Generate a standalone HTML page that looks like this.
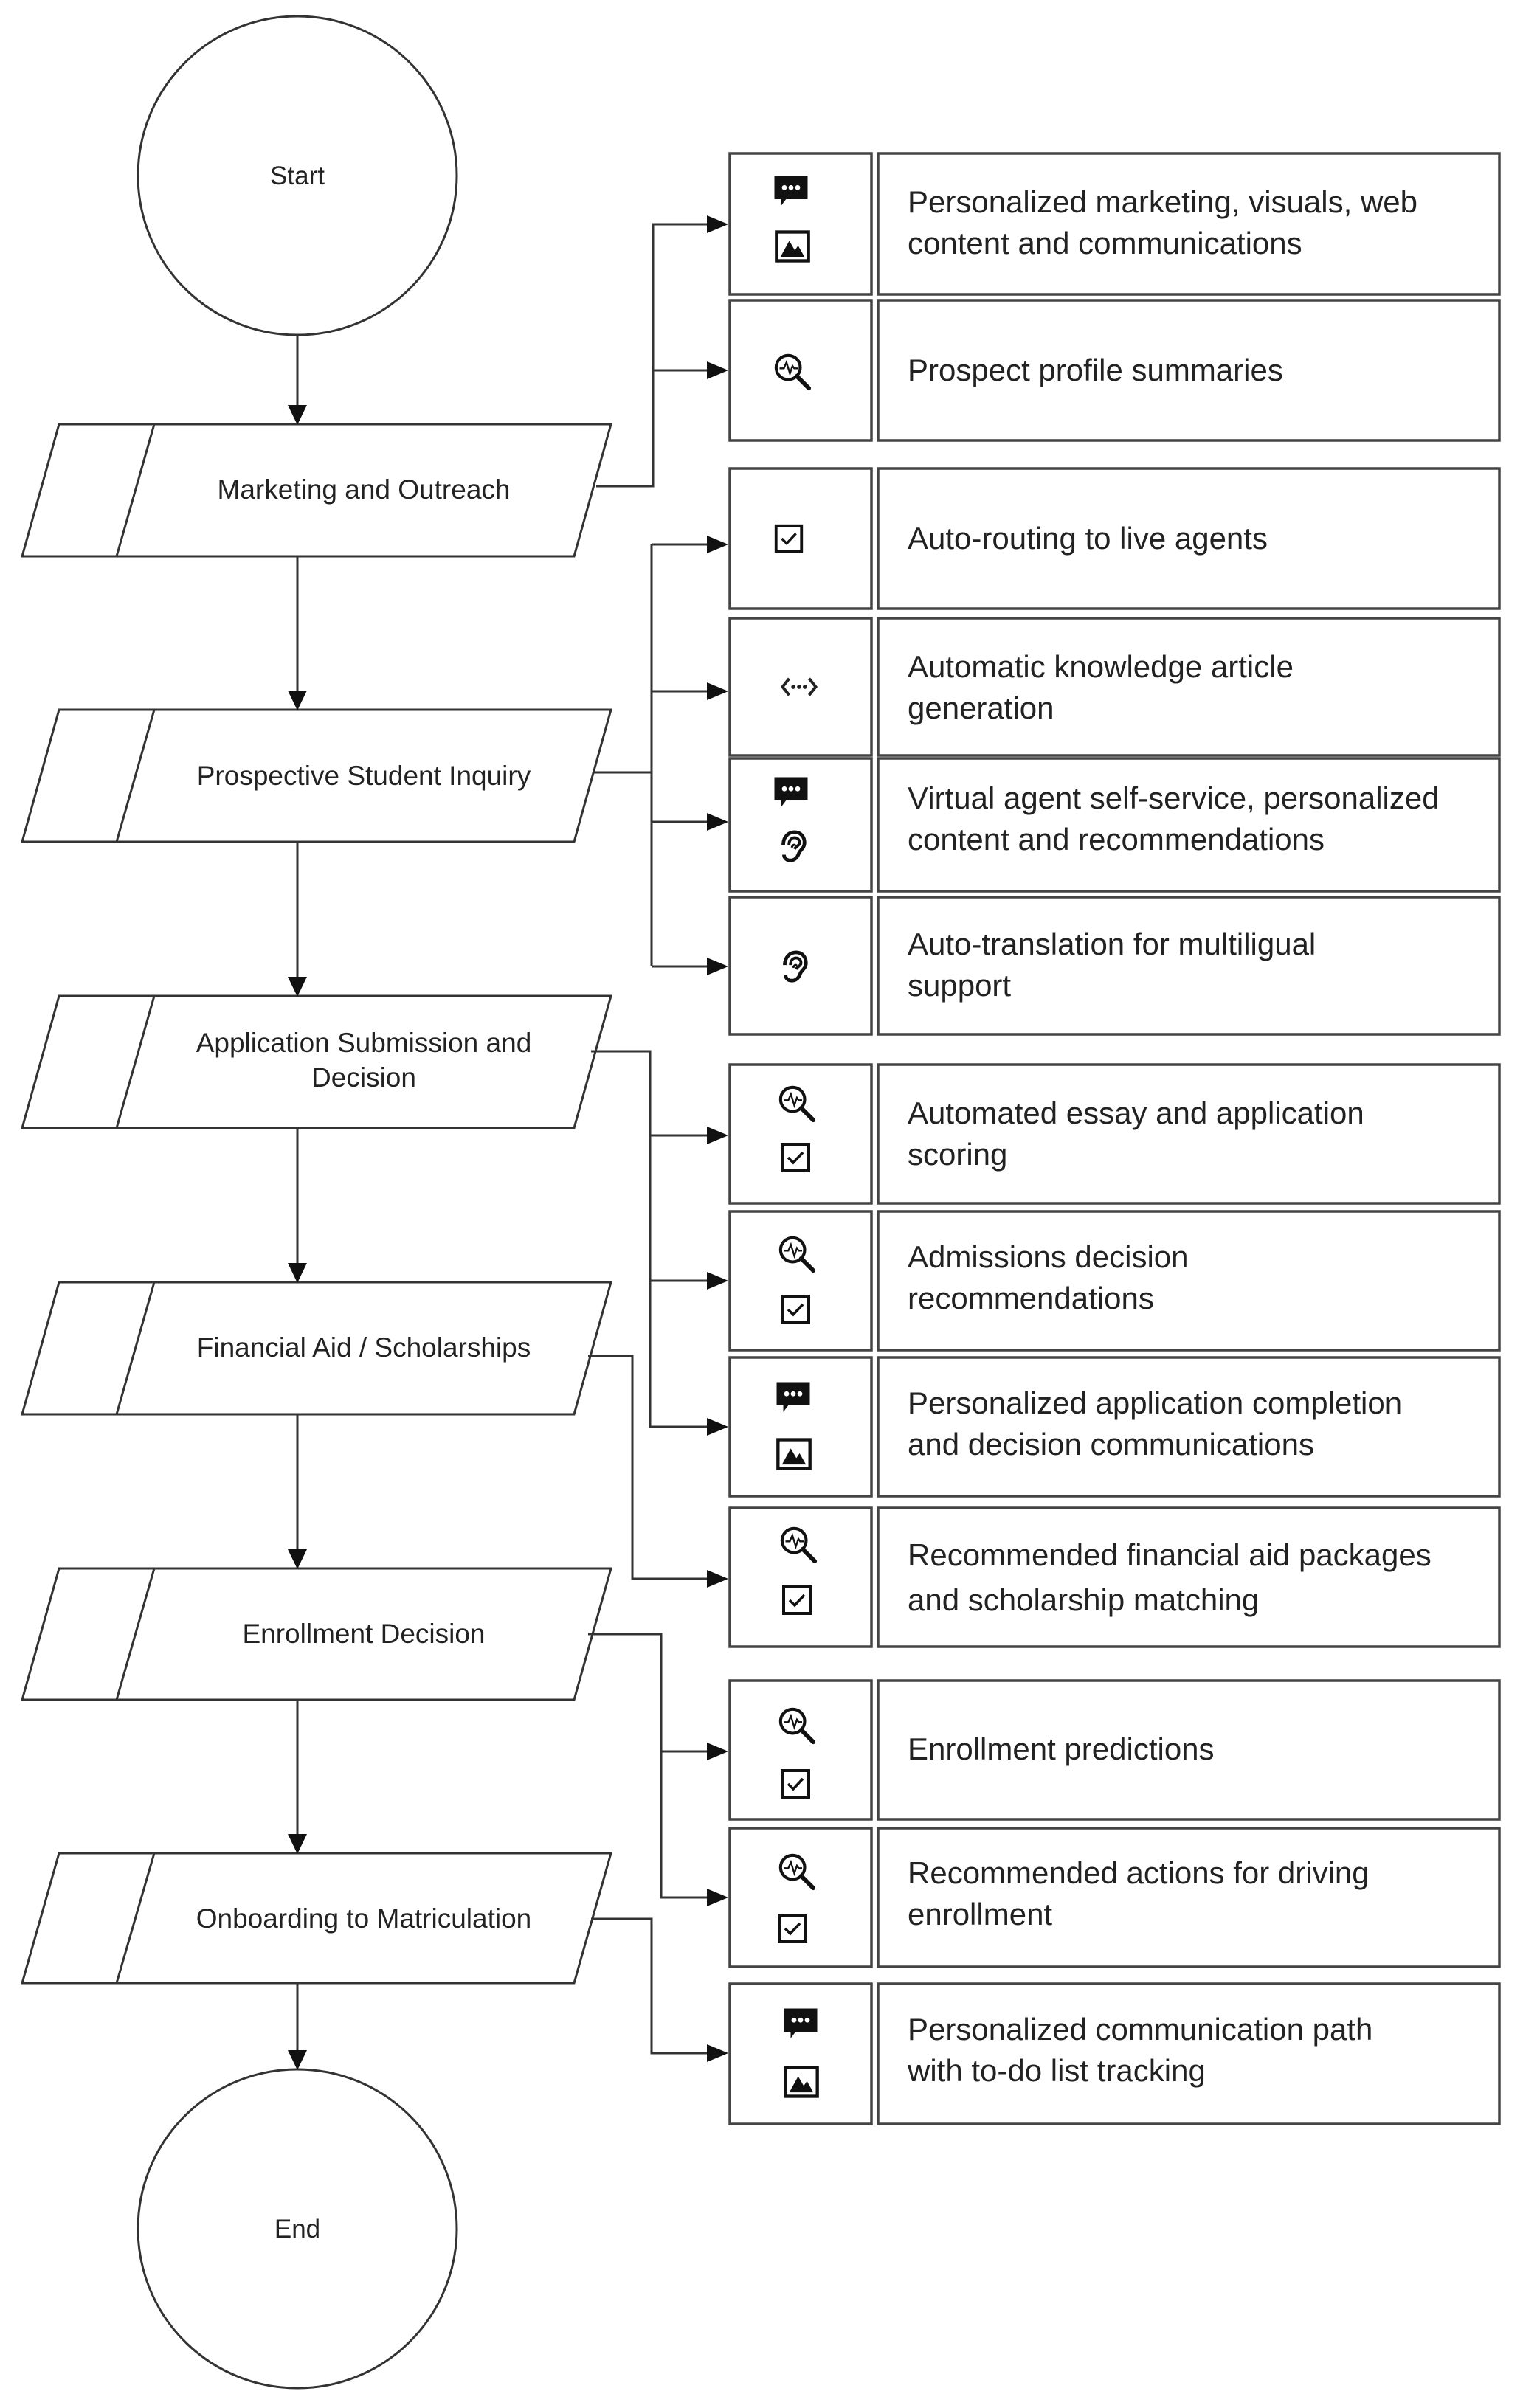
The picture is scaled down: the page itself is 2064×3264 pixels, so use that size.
<!DOCTYPE html>
<html><head><meta charset="utf-8"><style>
html,body{margin:0;padding:0;background:#fff;}
svg{display:block;}
text{font-family:"Liberation Sans",Arial,sans-serif;fill:#222;}
</style></head><body>
<svg width="2064" height="3264" viewBox="0 0 2064 3264" xmlns="http://www.w3.org/2000/svg">
<defs>
<symbol id="chat" viewBox="0 0 48 48"><path d="M4 4 H44 V32 H18 L12 40 V32 H4 Z" fill="#111"/><circle cx="16" cy="18" r="3" fill="#fff"/><circle cx="24" cy="18" r="3" fill="#fff"/><circle cx="32" cy="18" r="3" fill="#fff"/></symbol>
<symbol id="img" viewBox="0 0 48 48"><rect x="4" y="6" width="40" height="36" fill="none" stroke="#111" stroke-width="4"/><path d="M9 37 L20 17 L27 29 L31 23 L39 37 Z" fill="#111"/></symbol>
<symbol id="mag" viewBox="0 0 48 48"><circle cx="19" cy="19" r="14" fill="none" stroke="#111" stroke-width="3.5"/><path d="M29 29 L43 43" stroke="#111" stroke-width="5" stroke-linecap="round"/><path d="M9 20 H14 L17 13 L21 26 L24 17 L26 20 H30" fill="none" stroke="#111" stroke-width="2"/></symbol>
<symbol id="chk" viewBox="0 0 48 48"><rect x="6" y="6" width="36" height="36" fill="none" stroke="#111" stroke-width="4"/><path d="M14 24 L21 31 L34 17" fill="none" stroke="#111" stroke-width="3.5"/></symbol>
<symbol id="code" viewBox="0 0 48 48"><path d="M12 14 L4 24 L12 34 M36 14 L44 24 L36 34" fill="none" stroke="#222" stroke-width="3.5"/><circle cx="17" cy="24" r="2.5" fill="#222"/><circle cx="24" cy="24" r="2.5" fill="#222"/><circle cx="31" cy="24" r="2.5" fill="#222"/></symbol>
<symbol id="ear" viewBox="0 0 48 48"><path d="M12 22 C12 10 20 4 28 4 C37 4 42 11 42 19 C42 27 36 29 34 34 C32 40 28 44 22 44 C16 44 13 40 13 36" fill="none" stroke="#111" stroke-width="5"/><path d="M20 22 C20 15 24 12 28 12 C33 12 35 16 35 19 C35 23 30 24 28 28" fill="none" stroke="#111" stroke-width="4"/><path d="M24 26 C25 22 28 21 29 23" fill="none" stroke="#111" stroke-width="3"/></symbol>
</defs>

<g fill="none" stroke="#333" stroke-width="3">
<circle cx="403" cy="238" r="216"/>
<circle cx="403" cy="3021" r="216"/>
</g>
<text x="403" y="250" font-size="35" text-anchor="middle">Start</text>
<text x="403" y="3033" font-size="35" text-anchor="middle">End</text>

<g fill="none" stroke="#333" stroke-width="3">
<path d="M80 575 H828 L778 754 H30 Z M209 575 L158 754"/>
<path d="M80 962 H828 L778 1141 H30 Z M209 962 L158 1141"/>
<path d="M80 1350 H828 L778 1529 H30 Z M209 1350 L158 1529"/>
<path d="M80 1738 H828 L778 1917 H30 Z M209 1738 L158 1917"/>
<path d="M80 2126 H828 L778 2304 H30 Z M209 2126 L158 2304"/>
<path d="M80 2512 H828 L778 2688 H30 Z M209 2512 L158 2688"/>
</g>
<g font-size="37" text-anchor="middle">
<text x="493" y="676">Marketing and Outreach</text>
<text x="493" y="1064">Prospective Student Inquiry</text>
<text x="493" y="1426">Application Submission and</text>
<text x="493" y="1473">Decision</text>
<text x="493" y="1839">Financial Aid / Scholarships</text>
<text x="493" y="2227">Enrollment Decision</text>
<text x="493" y="2613">Onboarding to Matriculation</text>
</g>

<g stroke="#333" stroke-width="3">
<line x1="403" y1="454" x2="403" y2="550"/>
<line x1="403" y1="754" x2="403" y2="937"/>
<line x1="403" y1="1141" x2="403" y2="1325"/>
<line x1="403" y1="1529" x2="403" y2="1713"/>
<line x1="403" y1="1917" x2="403" y2="2101"/>
<line x1="403" y1="2304" x2="403" y2="2487"/>
<line x1="403" y1="2688" x2="403" y2="2780"/>
</g>
<g fill="#111">
<path d="M390 549 L416 549 L403 576 Z"/>
<path d="M390 936 L416 936 L403 963 Z"/>
<path d="M390 1324 L416 1324 L403 1351 Z"/>
<path d="M390 1712 L416 1712 L403 1739 Z"/>
<path d="M390 2100 L416 2100 L403 2127 Z"/>
<path d="M390 2486 L416 2486 L403 2513 Z"/>
<path d="M390 2779 L416 2779 L403 2806 Z"/>
</g>

<g fill="none" stroke="#333" stroke-width="3">
<path d="M808 659 H885 V304 H962 M885 502 H962"/>
<path d="M805 1047 H883 M883 738 V1310 M883 738 H962 M883 937 H962 M883 1114 H962 M883 1310 H962"/>
<path d="M801 1425 H881 V1934 H962 M881 1539 H962 M881 1736 H962"/>
<path d="M797 1838 H857 V2140 H962"/>
<path d="M797 2215 H896 V2572 H962 M896 2374 H962"/>
<path d="M801 2601 H883 V2783 H962"/>
</g>
<g fill="#111">
<path d="M958 292 L987 304 L958 316 Z"/>
<path d="M958 490 L987 502 L958 514 Z"/>
<path d="M958 726 L987 738 L958 750 Z"/>
<path d="M958 925 L987 937 L958 949 Z"/>
<path d="M958 1102 L987 1114 L958 1126 Z"/>
<path d="M958 1298 L987 1310 L958 1322 Z"/>
<path d="M958 1527 L987 1539 L958 1551 Z"/>
<path d="M958 1724 L987 1736 L958 1748 Z"/>
<path d="M958 1922 L987 1934 L958 1946 Z"/>
<path d="M958 2128 L987 2140 L958 2152 Z"/>
<path d="M958 2362 L987 2374 L958 2386 Z"/>
<path d="M958 2560 L987 2572 L958 2584 Z"/>
<path d="M958 2771 L987 2783 L958 2795 Z"/>
</g>

<g fill="#fff" stroke="#444" stroke-width="3.5">
<rect x="989" y="208" width="192" height="191"/><rect x="1190" y="208" width="842" height="191"/>
<rect x="989" y="407" width="192" height="190"/><rect x="1190" y="407" width="842" height="190"/>
<rect x="989" y="635" width="192" height="190"/><rect x="1190" y="635" width="842" height="190"/>
<rect x="989" y="838" width="192" height="186"/><rect x="1190" y="838" width="842" height="186"/>
<rect x="989" y="1028" width="192" height="180"/><rect x="1190" y="1028" width="842" height="180"/>
<rect x="989" y="1216" width="192" height="186"/><rect x="1190" y="1216" width="842" height="186"/>
<rect x="989" y="1443" width="192" height="188"/><rect x="1190" y="1443" width="842" height="188"/>
<rect x="989" y="1642" width="192" height="188"/><rect x="1190" y="1642" width="842" height="188"/>
<rect x="989" y="1840" width="192" height="188"/><rect x="1190" y="1840" width="842" height="188"/>
<rect x="989" y="2044" width="192" height="188"/><rect x="1190" y="2044" width="842" height="188"/>
<rect x="989" y="2278" width="192" height="188"/><rect x="1190" y="2278" width="842" height="188"/>
<rect x="989" y="2478" width="192" height="188"/><rect x="1190" y="2478" width="842" height="188"/>
<rect x="989" y="2689" width="192" height="190"/><rect x="1190" y="2689" width="842" height="190"/>
</g>

<use href="#chat" x="1045" y="234" width="54" height="54"/>
<use href="#img" x="1048" y="308" width="52" height="52"/>
<use href="#mag" x="1046" y="476" width="56" height="56"/>
<use href="#chk" x="1046" y="707" width="46" height="46"/>
<use href="#code" x="1056" y="904" width="54" height="54"/>
<use href="#chat" x="1045" y="1049" width="54" height="54"/>
<use href="#ear" x="1050" y="1121" width="46" height="52"/>
<use href="#ear" x="1052" y="1284" width="46" height="52"/>
<use href="#mag" x="1052" y="1468" width="56" height="56"/>
<use href="#chk" x="1054" y="1545" width="48" height="48"/>
<use href="#mag" x="1052" y="1672" width="56" height="56"/>
<use href="#chk" x="1054" y="1751" width="48" height="48"/>
<use href="#chat" x="1048" y="1869" width="54" height="54"/>
<use href="#img" x="1050" y="1945" width="52" height="52"/>
<use href="#mag" x="1054" y="2066" width="56" height="56"/>
<use href="#chk" x="1056" y="2145" width="48" height="48"/>
<use href="#mag" x="1052" y="2311" width="56" height="56"/>
<use href="#chk" x="1054" y="2394" width="48" height="48"/>
<use href="#mag" x="1052" y="2509" width="56" height="56"/>
<use href="#chk" x="1050" y="2590" width="48" height="48"/>
<use href="#chat" x="1058" y="2718" width="54" height="54"/>
<use href="#img" x="1060" y="2796" width="52" height="52"/>

<g font-size="42">
<text x="1230" y="288">Personalized marketing, visuals, web</text>
<text x="1230" y="344">content and communications</text>
<text x="1230" y="516">Prospect profile summaries</text>
<text x="1230" y="744">Auto-routing to live agents</text>
<text x="1230" y="918">Automatic knowledge article</text>
<text x="1230" y="974">generation</text>
<text x="1230" y="1096">Virtual agent self-service, personalized</text>
<text x="1230" y="1152">content and  recommendations</text>
<text x="1230" y="1294">Auto-translation for multiligual</text>
<text x="1230" y="1350">support</text>
<text x="1230" y="1523">Automated essay and application</text>
<text x="1230" y="1579">scoring</text>
<text x="1230" y="1718">Admissions decision</text>
<text x="1230" y="1774">recommendations</text>
<text x="1230" y="1916">Personalized application completion</text>
<text x="1230" y="1972">and decision communications</text>
<text x="1230" y="2122">Recommended financial aid packages</text>
<text x="1230" y="2183">and scholarship matching</text>
<text x="1230" y="2385">Enrollment predictions</text>
<text x="1230" y="2553">Recommended actions for driving</text>
<text x="1230" y="2609">enrollment</text>
<text x="1230" y="2765">Personalized communication path</text>
<text x="1230" y="2821">with to-do list tracking</text>
</g>
</svg>
</body></html>
